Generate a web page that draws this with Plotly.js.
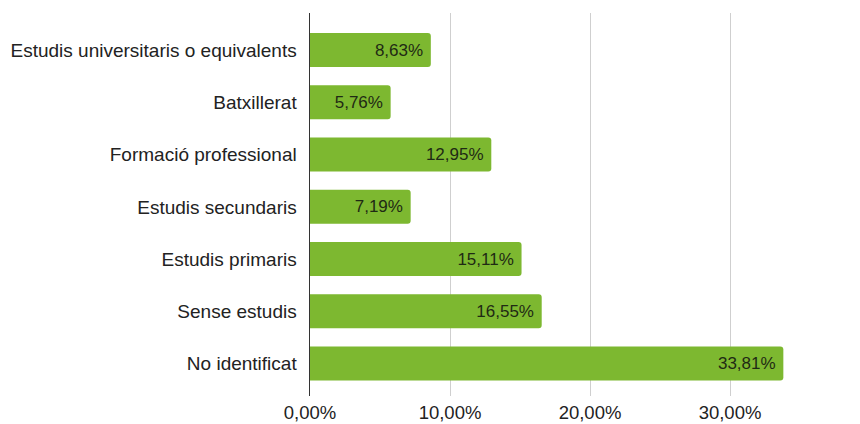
<!DOCTYPE html>
<html>
<head>
<meta charset="utf-8">
<script src="https://cdn.plot.ly/plotly-3.0.1.min.js"></script>
<style>html,body{margin:0;padding:0;background:#fff;}#chart{width:860px;height:424px;}</style>
</head>
<body>
<div id="chart"></div>
<script>
const categories = [
  "Estudis universitaris o equivalents",
  "Batxillerat",
  "Formació professional",
  "Estudis secundaris",
  "Estudis primaris",
  "Sense estudis",
  "No identificat"
];
const values = [8.63, 5.76, 12.95, 7.19, 15.11, 16.55, 33.81];
const xTicks = [0, 10, 20, 30];
const xTickLabels = ["0,00%", "10,00%", "20,00%", "30,00%"];

const FONT = "Liberation Sans, Arial, Helvetica, sans-serif";

const trace = {
  type: "bar",
  orientation: "h",
  y: categories,
  x: values,
  width: 0.65,
  marker: {color: "#7db830"},
  texttemplate: "%{x:.2f}%\u00a0",
  textposition: "inside",
  insidetextanchor: "end",
  textfont: {family: FONT, size: 17, color: "#1f2a14"},
  cliponaxis: false,
  hoverinfo: "none"
};

const layout = {
  width: 860,
  height: 424,
  margin: {l: 310, r: 60, t: 13, b: 28},
  paper_bgcolor: "#fff",
  plot_bgcolor: "#fff",
  separators: ",.",
  showlegend: false,
  barcornerradius: 3,
  font: {family: FONT, size: 18, color: "#222"},
  xaxis: {
    range: [0, 35],
    tickvals: xTicks,
    ticktext: xTickLabels,
    showgrid: true,
    gridcolor: "#cfcfcf",
    gridwidth: 1,
    zeroline: false,
    showline: false,
    ticks: "",
    ticklabelstandoff: 3,
    tickfont: {family: FONT, size: 18.5, color: "#222"},
    fixedrange: true
  },
  yaxis: {
    type: "category",
    categoryorder: "array",
    categoryarray: categories,
    range: [6.62, -0.71],
    showgrid: false,
    zeroline: false,
    showline: true,
    linecolor: "#333",
    linewidth: 1.5,
    ticks: "",
    ticklabelstandoff: 8,
    tickfont: {family: FONT, size: 19, color: "#222"},
    fixedrange: true
  }
};

Plotly.newPlot("chart", [trace], layout, {staticPlot: true, displayModeBar: false});
</script>
</body>
</html>
